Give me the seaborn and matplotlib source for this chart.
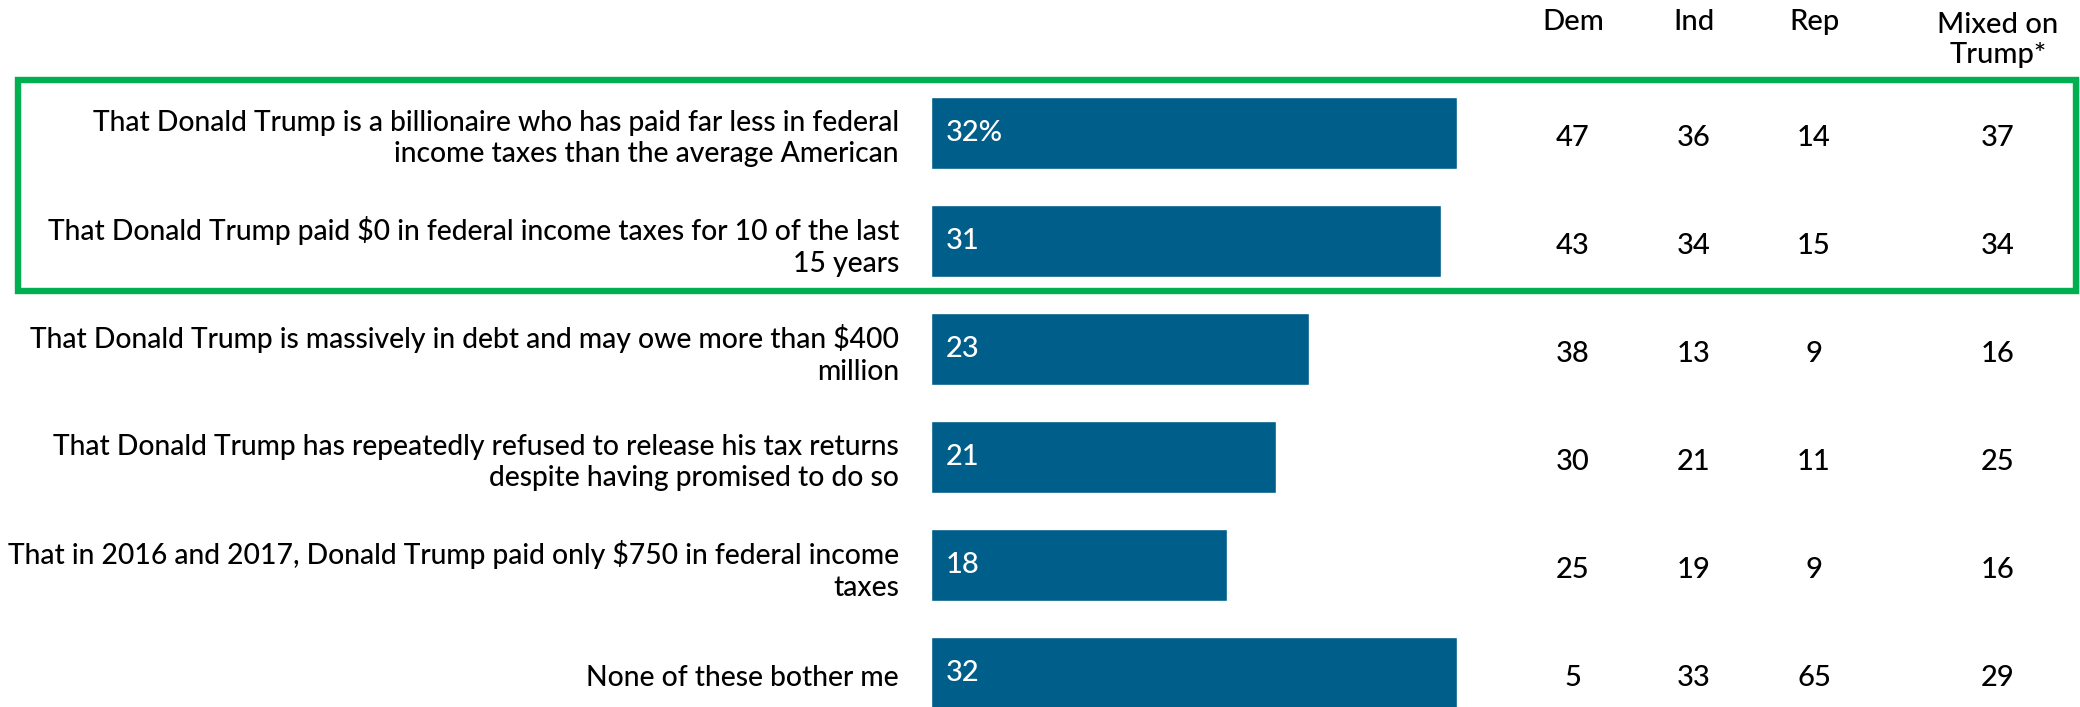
import matplotlib
matplotlib.use("Agg")
import matplotlib.pyplot as plt
import matplotlib.patches as patches
from matplotlib.transforms import blended_transform_factory
import seaborn as sns
import pandas as pd

statements = [
    "That Donald Trump is a billionaire who has paid far less in federal\nincome taxes than the average American",
    "That Donald Trump paid $0 in federal income taxes for 10 of the last\n15 years",
    "That Donald Trump is massively in debt and may owe more than $400\nmillion",
    "That Donald Trump has repeatedly refused to release his tax returns\ndespite having promised to do so",
    "That in 2016 and 2017, Donald Trump paid only $750 in federal income\ntaxes",
    "None of these bother me",
]
overall = [32, 31, 23, 21, 18, 32]
bar_labels = ["32%", "31", "23", "21", "18", "32"]
dem = [47, 43, 38, 30, 25, 5]
ind = [36, 34, 13, 21, 19, 33]
rep = [14, 15, 9, 11, 9, 65]
mixed = [37, 34, 16, 25, 16, 29]
col_headers = ["Dem", "Ind", "Rep", "Mixed on\nTrump*"]

sns.set_style("white")
plt.rcParams["font.family"] = ["Lato", "DejaVu Sans"]
plt.rcParams["font.weight"] = "medium"
plt.rcParams["text.parse_math"] = False

W, H = 2080, 707
fig = plt.figure(figsize=(W / 100, H / 100), dpi=100)

# bar axes, placed in pixel terms
bar_left, px_per_pct = 931, 16.44
top_px, pitch = 79, 108
ax = fig.add_axes([bar_left / W, 0, px_per_pct * 40 / W, 1 - top_px / H])

df = pd.DataFrame({"statement": statements, "overall": overall})
sns.barplot(data=df, x="overall", y="statement", orient="h", color="#005E8A",
            width=72 / pitch, saturation=1, ax=ax)
ax.set_xlim(0, 40)
ax.set_ylim(-0.5 + (H - top_px) / pitch, -0.5)
ax.axis("off")


def fx(px):
    return px / W


tr = blended_transform_factory(fig.transFigure, ax.transData)

for i, s in enumerate(statements):
    ax.text(fx(899), i + 0.05, s, transform=tr, ha="right", va="center",
            multialignment="right", fontsize=20.3, color="black", clip_on=False,
            linespacing=1.25)
    ax.text(fx(946), i, bar_labels[i], transform=tr, ha="left", va="center",
            fontsize=21, color="white")

col_x = [1573, 1694, 1814, 1998]
for cx, vals in zip(col_x, [dem, ind, rep, mixed]):
    for i, v in enumerate(vals):
        ax.text(fx(cx), i + 0.05, str(v), transform=tr, ha="center", va="center",
                fontsize=21, color="black", clip_on=False)

for cx, h in zip(col_x, col_headers):
    y = 40 if "\n" in h else 22
    fig.text(fx(cx), 1 - y / H, h, ha="center", va="center",
             fontsize=21, color="black", linespacing=1.2)

# green highlight box around first two rows
box = patches.Rectangle((18 / W, 1 - 291 / H), (2076 - 18) / W, (291 - 80) / H,
                        transform=fig.transFigure, fill=False, edgecolor="#00B050",
                        linewidth=4.6)
fig.patches.append(box)

fig.savefig("out.png", dpi=100)
